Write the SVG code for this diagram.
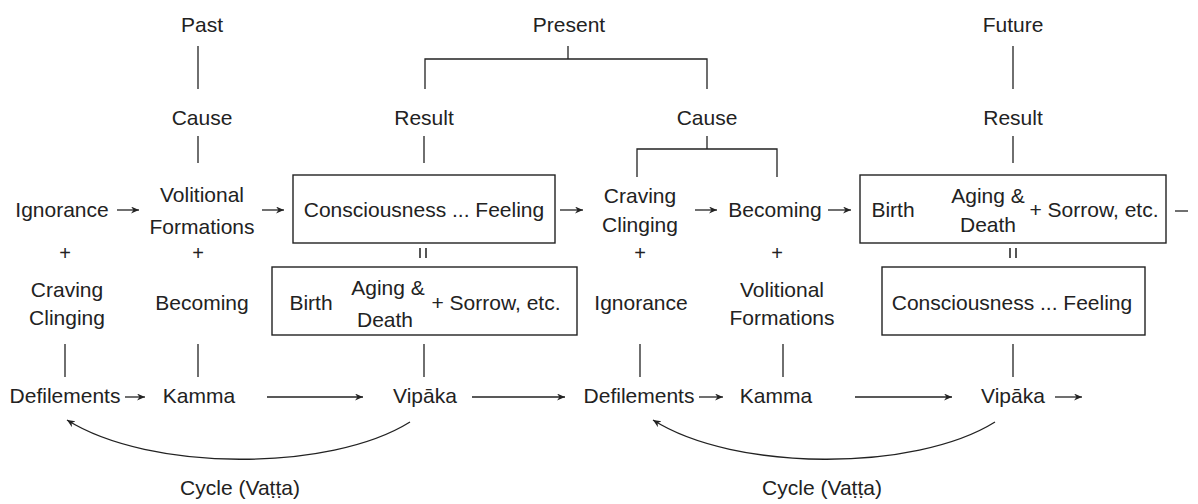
<svg xmlns="http://www.w3.org/2000/svg" width="1198" height="504" viewBox="0 0 1198 504">
<style>
text{font-family:"Liberation Sans",Arial,sans-serif;font-size:21px;fill:#222;text-anchor:middle}
text.p{font-size:20px}
.ln{stroke:#222;stroke-width:1.3;fill:none}
.bx{stroke:#222;stroke-width:1.4;fill:#fff}
.ar{stroke:#222;stroke-width:1.3;fill:none;marker-end:url(#ah)}
.eq{stroke:#444;stroke-width:1.8}
</style>
<defs>
<marker id="ah" markerUnits="userSpaceOnUse" markerWidth="10" markerHeight="8" refX="8" refY="3.5" orient="auto">
<path d="M0,0 L8,3.5 L0,7 L2.5,3.5 z" fill="#222"/>
</marker>
</defs>
<rect width="1198" height="504" fill="#fff"/>

<g id="connectors">
<line class="ln" x1="198" y1="46" x2="198" y2="89"/>
<line class="ln" x1="198" y1="136" x2="198" y2="163"/>
<line class="ln" x1="568" y1="46" x2="568" y2="59"/>
<polyline class="ln" points="425,89 425,59 707,59 707,89"/>
<line class="ln" x1="424" y1="136" x2="424" y2="163"/>
<line class="ln" x1="707" y1="136" x2="707" y2="149"/>
<polyline class="ln" points="637,177 637,149 777,149 777,177"/>
<line class="ln" x1="1013" y1="46" x2="1013" y2="89"/>
<line class="ln" x1="1013" y1="136" x2="1013" y2="163"/>
<line class="ar" x1="117" y1="210" x2="139" y2="210"/>
<line class="ar" x1="262" y1="210" x2="284" y2="210"/>
<line class="ar" x1="560" y1="210" x2="583" y2="210"/>
<line class="ar" x1="695" y1="210" x2="717" y2="210"/>
<line class="ar" x1="828" y1="210" x2="851" y2="210"/>
<line class="ar" x1="918" y1="210" x2="940" y2="210"/>
<line class="ln" x1="1175" y1="211" x2="1188" y2="211"/>
<line class="eq" x1="420" y1="248" x2="420" y2="258"/>
<line class="eq" x1="426" y1="248" x2="426" y2="258"/>
<line class="eq" x1="1010" y1="248" x2="1010" y2="258"/>
<line class="eq" x1="1016" y1="248" x2="1016" y2="258"/>
<line class="ln" x1="65" y1="344" x2="65" y2="377"/>
<line class="ln" x1="198" y1="344" x2="198" y2="377"/>
<line class="ln" x1="424" y1="344" x2="424" y2="377"/>
<line class="ln" x1="640" y1="344" x2="640" y2="377"/>
<line class="ln" x1="783" y1="344" x2="783" y2="377"/>
<line class="ln" x1="1013" y1="344" x2="1013" y2="377"/>
<line class="ar" x1="125" y1="397" x2="145" y2="397"/>
<line class="ar" x1="267" y1="397" x2="363" y2="397"/>
<line class="ar" x1="472" y1="397" x2="565" y2="397"/>
<line class="ar" x1="699" y1="397" x2="723" y2="397"/>
<line class="ar" x1="855" y1="397" x2="952" y2="397"/>
<line class="ar" x1="1055" y1="397" x2="1082" y2="397"/>
<path class="ar" d="M410,422 C330,472 150,472 67,420"/>
<path class="ar" d="M995,422 C915,472 735,472 653,420"/>
</g>

<g id="headers">
<text x="202" y="32">Past</text>
<text x="569" y="32">Present</text>
<text x="1013" y="32">Future</text>
<text x="202" y="125">Cause</text>
<text x="424" y="125">Result</text>
<text x="707" y="125">Cause</text>
<text x="1013" y="125">Result</text>
</g>

<g id="n-ignorance1"><text x="62" y="217">Ignorance</text></g>
<g id="n-volitional1"><text x="202" y="202">Volitional</text><text x="202" y="234">Formations</text></g>
<g id="n-box1"><rect class="bx" x="293" y="175" width="262" height="68"/><text x="424" y="217">Consciousness ... Feeling</text></g>
<g id="n-craving1"><text x="640" y="203">Craving</text><text x="640" y="232">Clinging</text></g>
<g id="n-becoming1"><text x="775" y="217">Becoming</text></g>
<g id="n-box2"><rect class="bx" x="860" y="175" width="306" height="68"/>
<text x="893" y="217">Birth</text>
<text x="988" y="203">Aging &amp;</text><text x="988" y="232">Death</text>
<text x="1094" y="217">+ Sorrow, etc.</text></g>

<g id="plus">
<text class="p" x="65" y="260">+</text>
<text class="p" x="198" y="260">+</text>
<text class="p" x="640" y="260">+</text>
<text class="p" x="777" y="260">+</text>
</g>

<g id="n-craving2"><text x="67" y="297">Craving</text><text x="67" y="325">Clinging</text></g>
<g id="n-becoming2"><text x="202" y="310">Becoming</text></g>
<g id="n-box3"><rect class="bx" x="272" y="267" width="305" height="68"/>
<text x="311" y="310">Birth</text>
<text x="388" y="295">Aging &amp;</text><text x="385" y="327">Death</text>
<text x="496" y="310">+ Sorrow, etc.</text></g>
<g id="n-ignorance2"><text x="641" y="310">Ignorance</text></g>
<g id="n-volitional2"><text x="782" y="297">Volitional</text><text x="782" y="325">Formations</text></g>
<g id="n-box4"><rect class="bx" x="882" y="267" width="263" height="68"/><text x="1012" y="310">Consciousness ... Feeling</text></g>

<g id="n-defilements1"><text x="65" y="403">Defilements</text></g>
<g id="n-kamma1"><text x="199" y="403">Kamma</text></g>
<g id="n-vipaka1"><text x="425" y="403">Vipāka</text></g>
<g id="n-defilements2"><text x="639" y="403">Defilements</text></g>
<g id="n-kamma2"><text x="776" y="403">Kamma</text></g>
<g id="n-vipaka2"><text x="1013" y="403">Vipāka</text></g>

<g id="labels">
<text x="240" y="495">Cycle (Vaṭṭa)</text>
<text x="822" y="495">Cycle (Vaṭṭa)</text>
</g>
</svg>
